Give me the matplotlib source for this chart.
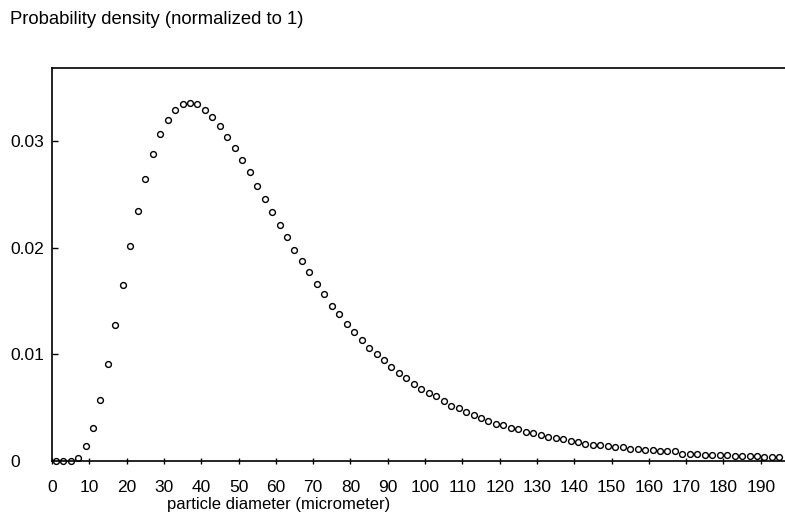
import numpy as np
import matplotlib
matplotlib.use('Agg')
import matplotlib.pyplot as plt

# particle diameter (micrometer), odd values 1..195
diameter = list(range(1, 197, 2))

# probability density
density = [
    0.0000, 0.0000, 0.0000, 0.0003, 0.0014, 0.0031, 0.0057, 0.0091, 0.0128, 0.0165,
    0.0202, 0.0235, 0.0265, 0.0288, 0.0307, 0.0320, 0.0330, 0.0335, 0.0336, 0.0335,
    0.0330, 0.0323, 0.0315, 0.0304, 0.0294, 0.0283, 0.0271, 0.0258, 0.0246, 0.0234,
    0.0222, 0.0210, 0.0198, 0.0188, 0.0177, 0.0166, 0.0157, 0.0146, 0.0138, 0.0129,
    0.0121, 0.0114, 0.0106, 0.0100, 0.0095, 0.0088, 0.0083, 0.0078, 0.0072, 0.0068,
    0.0064, 0.0061, 0.0056, 0.0052, 0.0050, 0.0046, 0.0043, 0.0040, 0.0038, 0.0035,
    0.0034, 0.0031, 0.0030, 0.0027, 0.0026, 0.0024, 0.0023, 0.0022, 0.0021, 0.0019,
    0.0018, 0.0016, 0.0015, 0.0015, 0.0014, 0.0013, 0.0013, 0.0011, 0.0011, 0.0010,
    0.0010, 0.0009, 0.0009, 0.0009, 0.0007, 0.0007, 0.0007, 0.0006, 0.0006, 0.0006,
    0.0006, 0.0005, 0.0005, 0.0005, 0.0005, 0.0004, 0.0004, 0.0004,
]

xticks = list(range(0, 200, 10))
yticks = [0, 0.01, 0.02, 0.03]
ytick_labels = ['0', '0.01', '0.02', '0.03']

plt.rcParams['font.family'] = ['Liberation Sans', 'DejaVu Sans']

W, H = 785, 515
fig = plt.figure(figsize=(W / 100, H / 100), dpi=100)
# axes box in pixel coordinates: left 52, top 68, bottom 461, runs off the right edge
ax = fig.add_axes([52 / W, (H - 461) / H, 1 - 52 / W, (461 - 68) / H])

ax.plot(diameter, density, linestyle='none', marker='o', markersize=4.2,
        markerfacecolor='white', markeredgecolor='black', markeredgewidth=1.0,
        clip_on=False)

ax.set_xlim(0, 196.5)
ax.set_ylim(0, 0.0369)
ax.set_xticks(xticks)
ax.set_xticklabels([str(t) for t in xticks])
ax.set_yticks(yticks)
ax.set_yticklabels(ytick_labels)

for s in ['left', 'top', 'bottom']:
    ax.spines[s].set_linewidth(1.2)
ax.spines['right'].set_visible(False)

ax.tick_params(axis='x', direction='inout', length=5, width=1, labelsize=12.5, pad=11)
ax.tick_params(axis='y', direction='in', length=4, width=1, labelsize=12.5, pad=30)
for lab in ax.get_yticklabels():
    lab.set_horizontalalignment('left')

fig.text(10 / W, 1 - 20 / H, 'Probability density (normalized to 1)',
         fontsize=13.3, ha='left', va='center')
fig.text(167 / W, 1 - 505 / H, 'particle diameter (micrometer)',
         fontsize=12, ha='left', va='center')

fig.savefig('out.png', dpi=100, facecolor='white')
